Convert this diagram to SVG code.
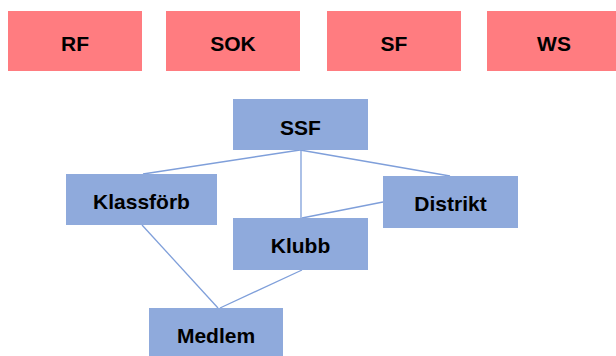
<svg xmlns="http://www.w3.org/2000/svg" width="616" height="356" viewBox="0 0 616 356">
<style>
.r{fill:#FF7C80}
.b{fill:#8FAADC}
.t{font-family:"Liberation Sans",Arial,sans-serif;font-weight:bold;font-size:21px;fill:#000;text-anchor:middle}
.c{stroke:#7F9FDA;stroke-width:1.3;fill:none}
</style>
<rect width="616" height="356" fill="#fff"/>
<g id="connectors">
<line class="c" x1="300" y1="150" x2="143" y2="174"/>
<line class="c" x1="300" y1="150" x2="450" y2="176"/>
<line class="c" x1="301" y1="150" x2="301" y2="218"/>
<line class="c" x1="383" y1="202" x2="302" y2="218"/>
<line class="c" x1="142" y1="225" x2="218" y2="308"/>
<line class="c" x1="302" y1="270" x2="220" y2="308"/>
</g>
<g id="RF"><rect class="r" x="8" y="11" width="134" height="60"/><text class="t" x="75" y="51">RF</text></g>
<g id="SOK"><rect class="r" x="166" y="11" width="134" height="60"/><text class="t" x="233" y="51">SOK</text></g>
<g id="SF"><rect class="r" x="327" y="11" width="134" height="60"/><text class="t" x="394" y="51">SF</text></g>
<g id="WS"><rect class="r" x="487" y="11" width="134" height="60"/><text class="t" x="554" y="51">WS</text></g>
<g id="SSF"><rect class="b" x="233" y="99" width="135" height="51"/><text class="t" x="300.5" y="135">SSF</text></g>
<g id="Klassforb"><rect class="b" x="66" y="174" width="151" height="51"/><text class="t" x="141.5" y="209">Klassförb</text></g>
<g id="Distrikt"><rect class="b" x="383" y="176" width="135" height="52"/><text class="t" x="450.5" y="211">Distrikt</text></g>
<g id="Klubb"><rect class="b" x="233" y="218" width="135" height="52"/><text class="t" x="300.5" y="253">Klubb</text></g>
<g id="Medlem"><rect class="b" x="149" y="308" width="134" height="52"/><text class="t" x="216" y="343">Medlem</text></g>
</svg>
